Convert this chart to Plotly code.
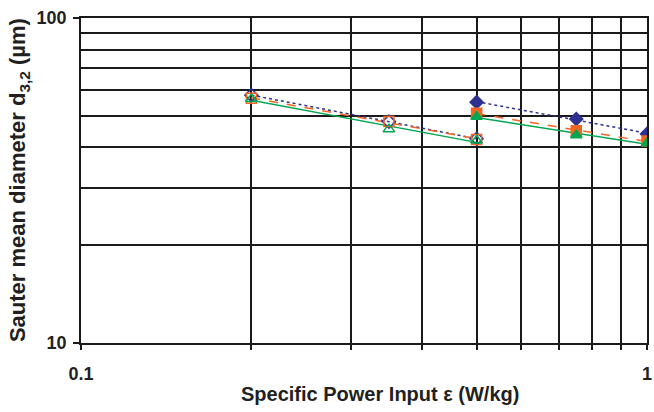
import numpy as np
import plotly.graph_objects as go

# Open-symbol series (lower power inputs)
x_open = [0.2, 0.35, 0.5]
blue_open = [57.9, 48.0, 42.5]
red_open = [56.6, 48.0, 42.3]
green_open = [56.3, 45.5, 42.0]

# Filled-symbol series (higher power inputs)
x_fill = [0.5, 0.75, 1.0]
blue_fill = [55.1, 48.9, 44.0]
red_fill = [50.9, 45.0, 41.8]
green_fill = [49.7, 43.6, 41.2]

x_ticks = [0.1, 1]
x_tick_text = ["0.1", "1"]
x_minor = [0.2, 0.3, 0.4, 0.5, 0.6, 0.7, 0.8, 0.9]
y_ticks = [10, 100]
y_tick_text = ["10", "100"]
y_minor = [20, 30, 40, 50, 60, 70, 80, 90]

BLUE = "#2E3192"
RED = "#F26522"
GREEN = "#00A651"
FONT = "Liberation Sans, Arial, sans-serif"
TXT = "#231F20"

series = [
    (x_open, blue_open, BLUE, "diamond-open", "dot"),
    (x_open, red_open, RED, "square-open", "dash"),
    (x_open, green_open, GREEN, "triangle-up-open", "solid"),
    (x_fill, blue_fill, BLUE, "diamond", "dot"),
    (x_fill, red_fill, RED, "square", "dash"),
    (x_fill, green_fill, GREEN, "triangle-up", "solid"),
]

fig = go.Figure()
# power-law trend lines (fit in log-log space) over each data range
for xs, ys, col, sym, dash in series:
    lx, ly = np.log10(xs), np.log10(ys)
    k, b = np.polyfit(lx, ly, 1)
    xt = np.array([xs[0], xs[-1]])
    yt = 10 ** (b + k * np.log10(xt))
    fig.add_trace(go.Scatter(x=xt, y=yt, mode="lines",
                             line=dict(color=col, width=1.5, dash=dash),
                             hoverinfo="skip", showlegend=False))
for xs, ys, col, sym, dash in series:
    fig.add_trace(go.Scatter(x=xs, y=ys, mode="markers",
                             marker=dict(symbol=sym, size=10, color=col,
                                         line=dict(color=col, width=1.5)),
                             showlegend=False))

gridc = "#1a1a1a"
fig.update_layout(
    width=654, height=412,
    margin=dict(l=81, r=2, t=18, b=69),
    paper_bgcolor="white", plot_bgcolor="white",
    font=dict(family=FONT, color=TXT),
    xaxis=dict(type="log", range=[-1, 0], tickvals=x_ticks, ticktext=x_tick_text,
               showgrid=True, gridcolor=gridc, gridwidth=1.5,
               ticks="outside", ticklen=5, tickwidth=1.5, tickcolor=gridc,
               tickfont=dict(size=18, family=FONT, weight="bold", color=TXT),
               ticklabeloverflow="allow", ticklabelstandoff=9,
               showline=True, linecolor=gridc, linewidth=1.5, mirror=True,
               minor=dict(tickvals=x_minor, showgrid=True, gridcolor=gridc, gridwidth=1.5,
                          ticks="outside", ticklen=5, tickwidth=1.5, tickcolor=gridc),
               zeroline=False),
    yaxis=dict(type="log", range=[1, 2], tickvals=y_ticks, ticktext=y_tick_text,
               showgrid=True, gridcolor=gridc, gridwidth=1.5,
               ticks="outside", ticklen=6, tickwidth=1.5, tickcolor=gridc,
               tickfont=dict(size=18, family=FONT, weight="bold", color=TXT),
               ticklabeloverflow="allow", ticklabelstandoff=3,
               showline=True, linecolor=gridc, linewidth=1.5, mirror=True,
               minor=dict(tickvals=y_minor, showgrid=True, gridcolor=gridc, gridwidth=1.5,
                          ticks=""),
               zeroline=False),
    annotations=[
        dict(text="<b>Specific Power Input ε (W/kg)</b>", xref="paper", yref="paper",
             x=(383 - 81) / (652 - 81), y=-(394 - 343) / 325, xanchor="center", yanchor="middle",
             showarrow=False, font=dict(size=20, family=FONT, color=TXT)),
        dict(text="<b>Sauter mean diameter d<sub>3,2</sub> (µm)</b>", xref="paper", yref="paper",
             x=-(81 - 18) / (652 - 81), y=0.5, xanchor="center", yanchor="middle", textangle=-90,
             showarrow=False, font=dict(size=22, family=FONT, color=TXT)),
    ],
)
fig.write_html("out.html")
